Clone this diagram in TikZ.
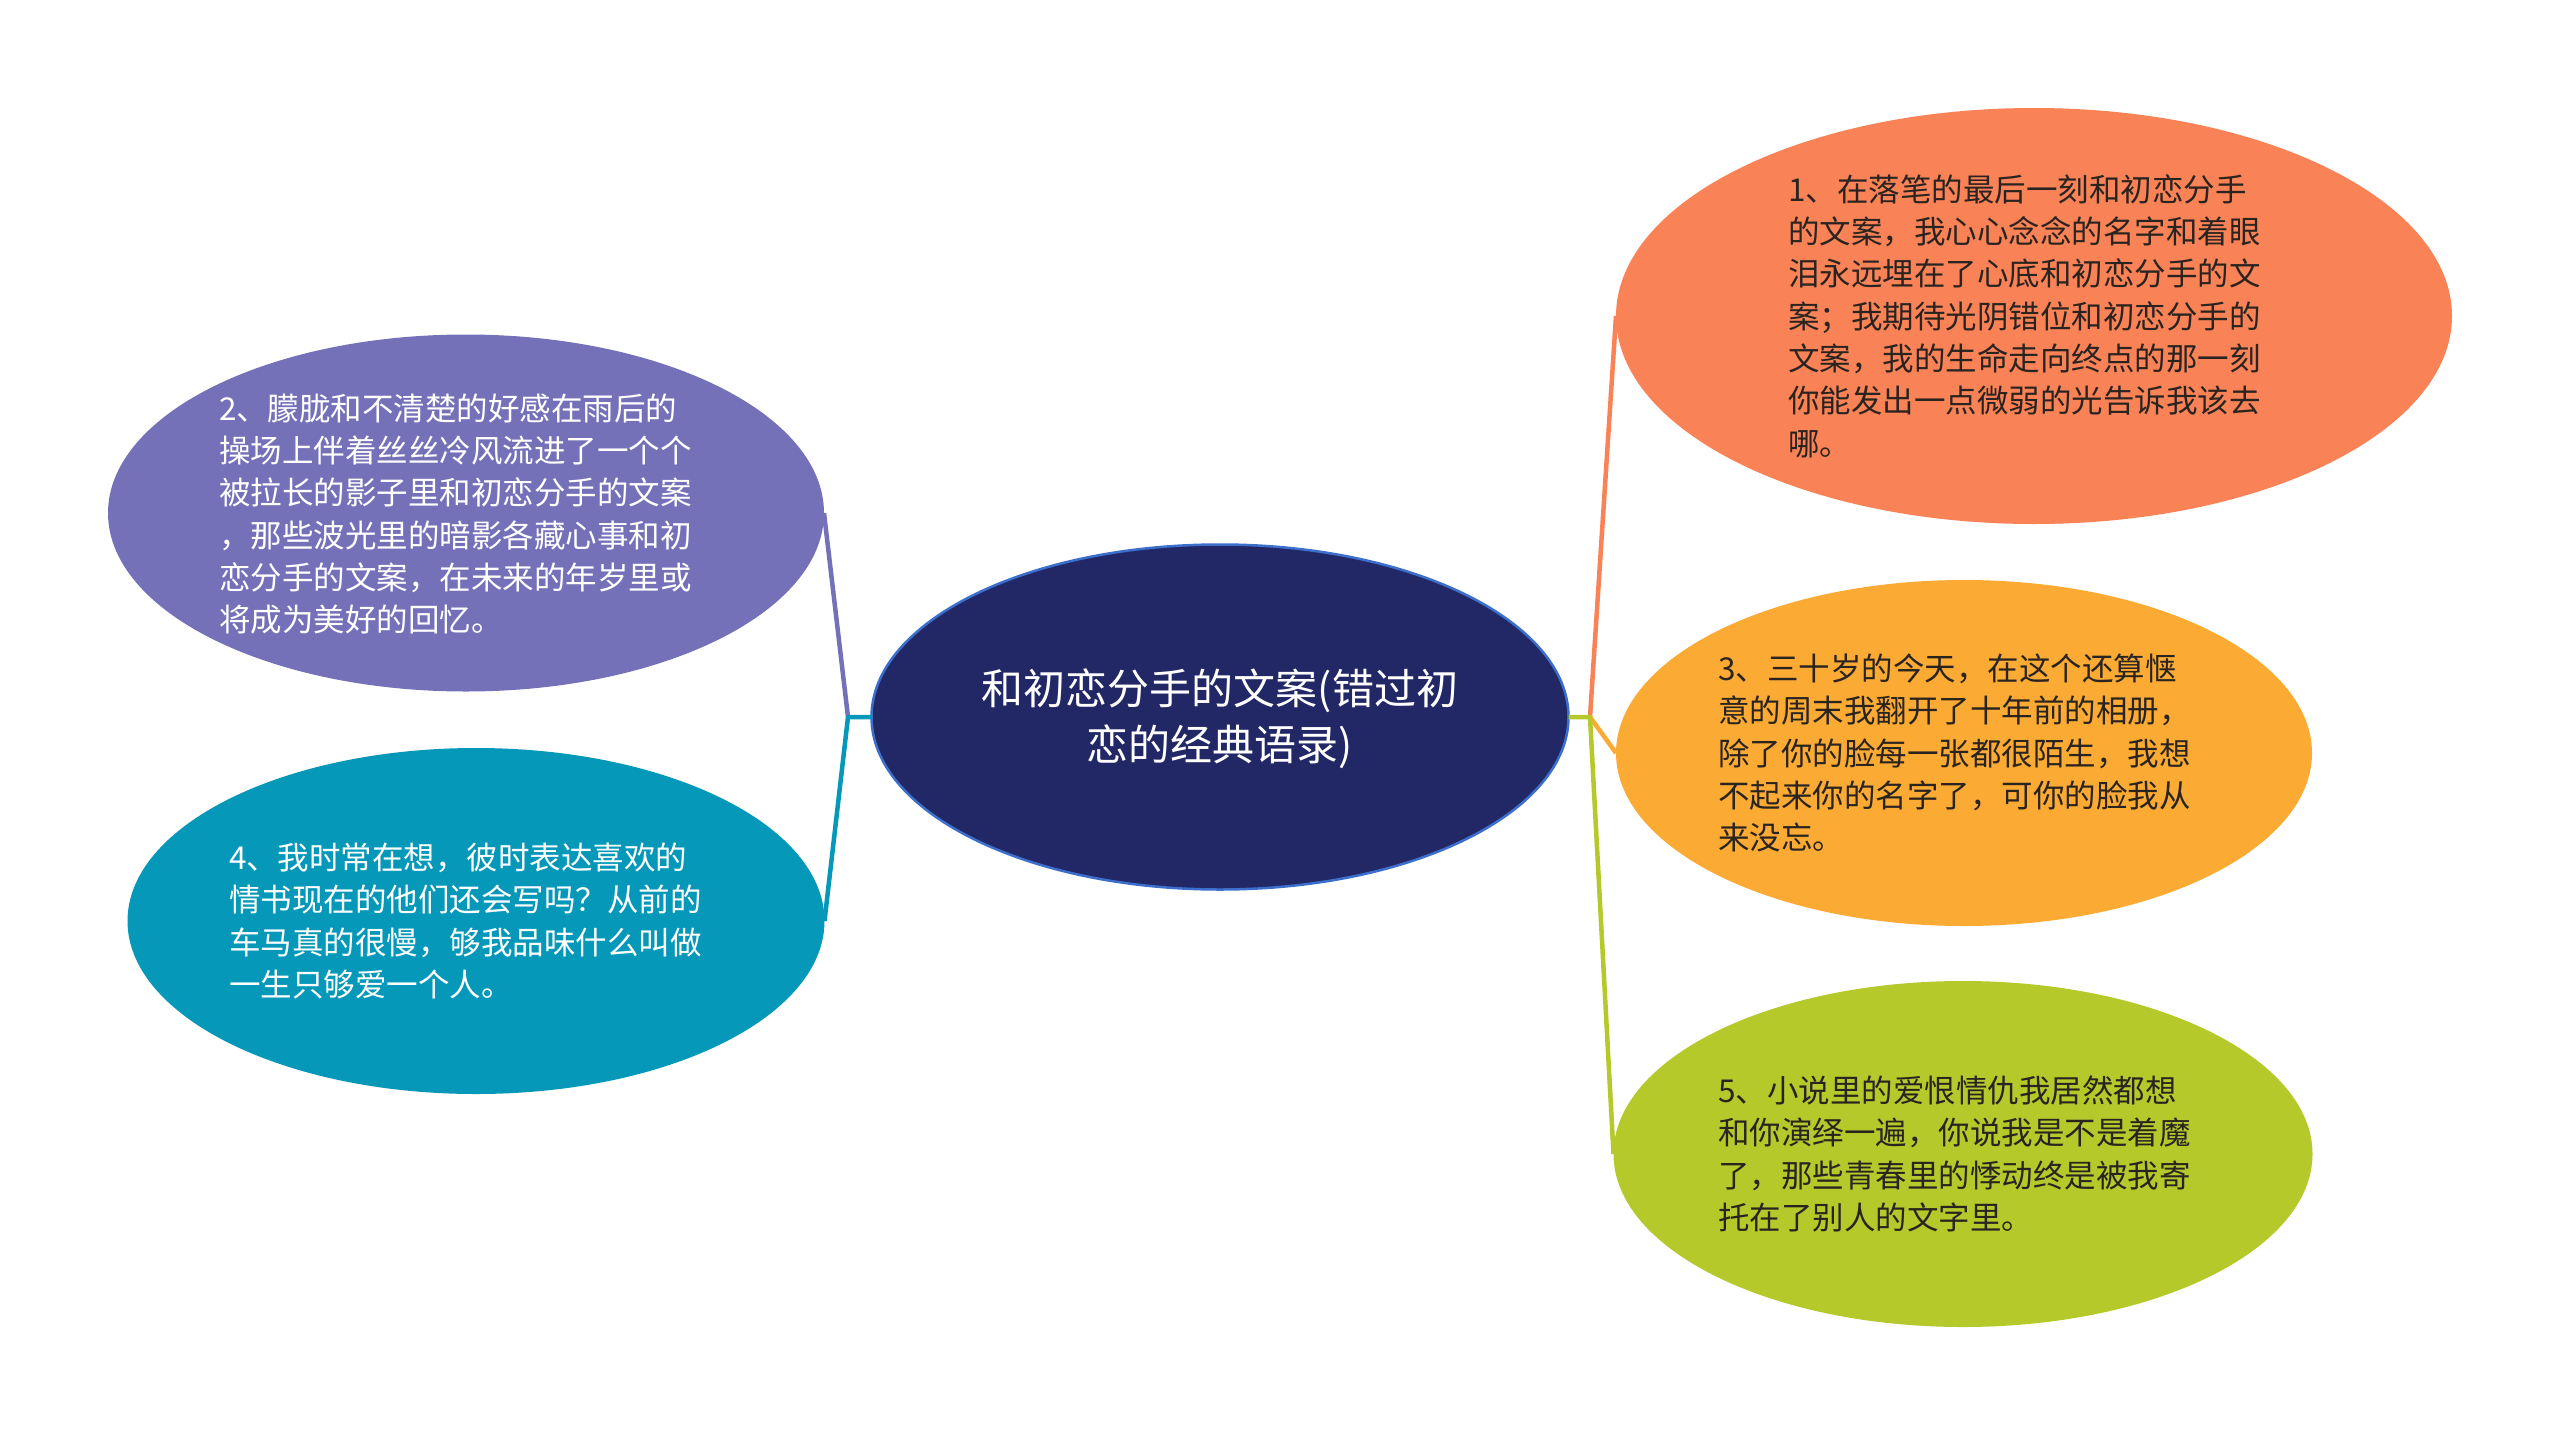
\documentclass[tikz,border=0pt]{standalone}
\usepackage{fontspec}
\setmainfont{Noto Sans CJK SC}
\usetikzlibrary{shapes.geometric}
\definecolor{cnavy}{HTML}{222866}
\definecolor{cnavyb}{HTML}{3C6FCB}
\definecolor{corange}{HTML}{F98257}
\definecolor{cyellow}{HTML}{FBAA34}
\definecolor{cgreen}{HTML}{B5C92B}
\definecolor{cpurple}{HTML}{7571B9}
\definecolor{cteal}{HTML}{0598B8}
\definecolor{ldark}{HTML}{2A2420}
\tikzset{
  ell/.style={ellipse, inner sep=0pt, outer sep=0pt},
  txt/.style={inner sep=0pt, outer sep=0pt, align=left, font=\fontsize{31.5}{42.3}\selectfont},
  link/.style={line width=4.5pt}
}
\begin{document}
\begin{tikzpicture}[x=1pt,y=-1pt]
\useasboundingbox[fill=white] (0,0) rectangle (2560,1435);
% ellipses
\node[ell, fill=cnavy, draw=cnavyb, line width=2.5pt, minimum width=697pt, minimum height=345pt] (c) at (1220,717) {};
\node[ell, fill=corange, minimum width=836pt, minimum height=416pt] (e1) at (2034,316) {};
\node[ell, fill=cpurple, minimum width=716pt, minimum height=357pt] (e2) at (466,513) {};
\node[ell, fill=cyellow, minimum width=696pt, minimum height=346pt] (e3) at (1964,753) {};
\node[ell, fill=cteal, minimum width=697pt, minimum height=346pt] (e4) at (476,921) {};
\node[ell, fill=cgreen, minimum width=699pt, minimum height=346pt] (e5) at (1963,1154) {};
% connectors
\coordinate (jl) at (848,717);
\coordinate (jr) at (1590,717);
\draw[link, cpurple] (jl) -- (e2.east);
\draw[link, cteal, line join=round] (c.west) -- (jl) -- (e4.east);
\draw[link, corange] (jr) -- (e1.west);
\draw[link, cyellow] (jr) -- (e3.west);
\draw[link, cgreen, line join=round] (c.east) -- (jr) -- (e5.west);
% texts
\node[txt, align=center, text=white, font=\fontsize{42}{56}\selectfont] (tc) at (1220,719) {和初恋分手的文案(错过初\\恋的经典语录)};
\node[txt, anchor=west, text=ldark] (t1) at (1788,316) {1、在落笔的最后一刻和初恋分手\\的文案，我心心念念的名字和着眼\\泪永远埋在了心底和初恋分手的文\\案；我期待光阴错位和初恋分手的\\文案，我的生命走向终点的那一刻\\你能发出一点微弱的光告诉我该去\\哪。};
\node[txt, anchor=west, text=white] (t2) at (219,514) {2、朦胧和不清楚的好感在雨后的\\操场上伴着丝丝冷风流进了一个个\\被拉长的影子里和初恋分手的文案\\，那些波光里的暗影各藏心事和初\\恋分手的文案，在未来的年岁里或\\将成为美好的回忆。};
\node[txt, anchor=west, text=ldark] (t3) at (1718,753) {3、三十岁的今天，在这个还算惬\\意的周末我翻开了十年前的相册，\\除了你的脸每一张都很陌生，我想\\不起来你的名字了，可你的脸我从\\来没忘。};
\node[txt, anchor=west, text=white] (t4) at (229,921) {4、我时常在想，彼时表达喜欢的\\情书现在的他们还会写吗？从前的\\车马真的很慢，够我品味什么叫做\\一生只够爱一个人。};
\node[txt, anchor=west, text=ldark] (t5) at (1718,1154) {5、小说里的爱恨情仇我居然都想\\和你演绎一遍，你说我是不是着魔\\了，那些青春里的悸动终是被我寄\\托在了别人的文字里。};
\end{tikzpicture}
\end{document}
